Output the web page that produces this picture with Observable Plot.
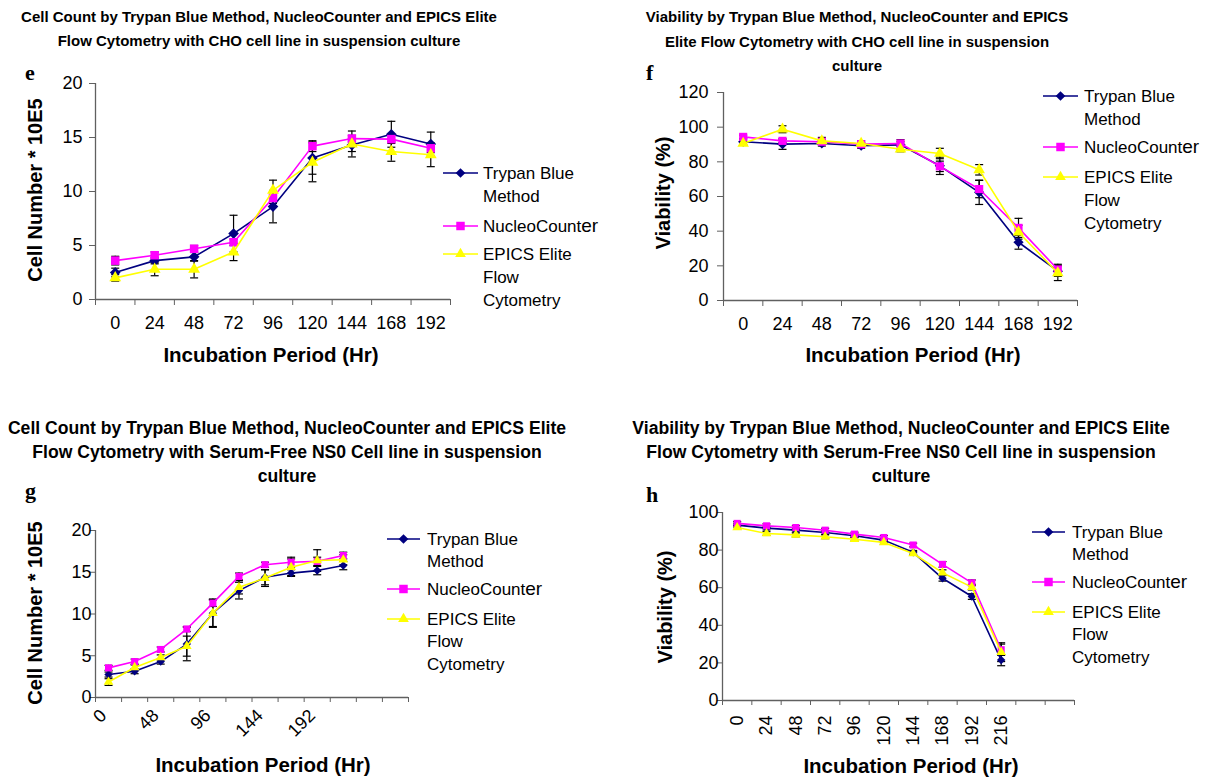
<!DOCTYPE html>
<html><head><meta charset="utf-8">
<script src="https://cdn.jsdelivr.net/npm/d3@7"></script>
<script src="https://cdn.jsdelivr.net/npm/@observablehq/plot@0.6"></script>
<style>
body{margin:0;background:#fff;font-family:"Liberation Sans",Arial,sans-serif;color:#000;}
#root{position:relative;width:1212px;height:780px;overflow:hidden;background:#fff;}
.abs{position:absolute;}
.title{font-weight:bold;text-align:center;white-space:nowrap;transform:translateX(-50%);line-height:24px;}
.letter{font-family:"Liberation Serif","DejaVu Serif",serif;font-weight:bold;font-size:22px;line-height:1;}
.ytitle{font-weight:bold;font-size:20px;white-space:nowrap;transform:translate(-50%,-50%) rotate(-90deg);}
.xtitle{font-weight:bold;font-size:20.5px;white-space:nowrap;transform:translate(-50%,-50%);}
svg.plot{position:absolute;}
</style></head>
<body><div id="root"></div>
<script>
// ---------- data ----------
const seriesNames = ["Trypan Blue Method", "NucleoCounter", "EPICS Elite Flow Cytometry"];
const seriesColors = ["#000080", "#FF00FF", "#FFFF00"];

// Panel e: CHO cell count (cells * 10E5)
const hoursE = ["0","24","48","72","96","120","144","168","192"];
const trypanE = [2.5, 3.6, 3.95, 6.1, 8.6, 13.1, 14.3, 15.3, 14.4];
const nucleoE = [3.6, 4.1, 4.7, 5.3, 9.4, 14.2, 14.9, 14.85, 14.0];
const epicsE  = [2.0, 2.8, 2.8, 4.4, 10.1, 12.7, 14.4, 13.7, 13.4];
const trypanErrE = [0.4, 0.3, 0.4, 1.7, 1.5, 1.5, 0.6, 1.2, 1.1];
const nucleoErrE = [0.4, 0.3, 0.3, 0.3, 0.5, 0.5, 0.3, 0.4, 0.4];
const epicsErrE  = [0.3, 0.6, 0.8, 0.8, 0.95, 1.8, 1.2, 0.9, 1.1];

// Panel f: CHO viability (%)
const hoursF = ["0","24","48","72","96","120","144","168","192"];
const trypanF = [91.6, 90.2, 90.6, 89.3, 89.8, 77.7, 62.4, 33.6, 16.9];
const nucleoF = [94.4, 92.1, 91.6, 90.2, 90.6, 77.4, 64.3, 41.9, 17.9];
const epicsF  = [90.6, 98.8, 92.1, 90.6, 87.3, 84.8, 75.4, 39.4, 15.9];
const trypanErrF = [1.5, 3, 1.5, 1.5, 3, 5, 7, 4, 3];
const nucleoErrF = [1, 1, 1, 1, 1, 3, 5, 5.5, 3];
const epicsErrF  = [1, 2, 2, 1.5, 1.5, 3, 3, 4, 4.4];

// Panel g: NS0 cell count (cells * 10E5)
const hoursG = ["0","24","48","72","96","120","144","168","192","216","240","264"];
const labelsG = ["0","48","96","144","192"];
const trypanG = [2.75, 3.15, 4.3, 6.4, 10.1, 12.8, 14.4, 14.9, 15.2, 15.8];
const nucleoG = [3.55, 4.3, 5.75, 8.2, 11.3, 14.5, 15.9, 16.2, 16.3, 17.0];
const epicsG  = [1.85, 3.6, 4.8, 6.15, 10.1, 13.2, 14.3, 15.6, 16.4, 16.5];
const trypanErrG = [0.3, 0.3, 0.3, 2.0, 1.7, 1.0, 0.9, 0.4, 0.5, 0.5];
const nucleoErrG = [0.3, 0.3, 0.3, 0.3, 0.4, 0.4, 0.3, 0.6, 0.5, 0.4];
const epicsErrG  = [0.4, 0.3, 0.3, 1.2, 1.6, 0.8, 1.0, 1.0, 1.3, 0.6];

// Panel h: NS0 viability (%)
const hoursH = ["0","24","48","72","96","120","144","168","192","216","240","264"];
const labelsH = ["0","24","48","72","96","120","144","168","192","216"];
const trypanH = [93.3, 91.7, 90.6, 89.4, 87.6, 85.3, 78.8, 65.0, 55.3, 21.5];
const nucleoH = [94.2, 92.9, 92.0, 90.6, 88.5, 86.7, 82.7, 72.4, 62.6, 27.0];
const epicsH  = [92.0, 88.8, 88.1, 87.1, 85.8, 84.1, 78.2, 68.0, 60.3, 25.7];
const trypanErrH = [1, 1, 1, 1, 1, 1, 1, 1.5, 1.5, 3];
const nucleoErrH = [1, 1, 1, 1, 1, 1, 1, 1.5, 1.5, 3];
const epicsErrH  = [1, 1, 1, 1, 1, 1, 1, 1.5, 1.5, 5];

// ---------- helpers ----------
const FONT = '"Liberation Sans", Arial, sans-serif';
const AXIS = "#606060";
const symbols = ["diamond2", "square", "triangle"];
const capSymbol = {draw(ctx, size) { const r = Math.sqrt(size / Math.PI); ctx.moveTo(-r, 0); ctx.lineTo(r, 0); }};
const root = document.getElementById("root");

function panel(p) {
  const rows = [];
  p.values.forEach((vals, k) => vals.forEach((v, i) => rows.push({i, v, e: p.errs[k][i], k})));
  const nb = p.hours.length;
  const bounds = d3.range(nb + 1).map(j => j - 0.5);
  const labelIdx = p.hours.map((h, i) => i).filter(i => p.labels.includes(p.hours[i]));
  const yTicks = d3.range(0, p.yMax + p.yStep / 2, p.yStep);
  const marks = [
    Plot.axisY({ticks: yTicks, tickSize: p.ytick, stroke: AXIS, tickFormat: () => "", label: null}),
    Plot.axisY({ticks: yTicks, tickSize: 0, tickPadding: p.ypad, tickFormat: d => String(d), label: null, fontSize: 18}),
    Plot.axisX({ticks: bounds, tickSize: p.xtick, stroke: AXIS, tickFormat: () => "", label: null}),
    Plot.axisX({ticks: labelIdx, tickSize: 0, tickPadding: p.xpad, tickRotate: p.rotate, dx: p.xdx || 0,
      tickFormat: i => p.hours[i], label: null, fontSize: 18}),
    Plot.ruleY([0], {stroke: AXIS, strokeWidth: 1.3}),
    Plot.ruleX([-0.5], {stroke: AXIS, strokeWidth: 1.3}),
    Plot.ruleX(rows, {x: "i", y1: d => d.v - d.e, y2: d => d.v + d.e, stroke: "#000", strokeWidth: 1.2}),
    Plot.dot(rows, {x: "i", y: d => d.v - d.e, symbol: capSymbol, r: 4, stroke: "#000", strokeWidth: 1.2}),
    Plot.dot(rows, {x: "i", y: d => d.v + d.e, symbol: capSymbol, r: 4, stroke: "#000", strokeWidth: 1.2})
  ];
  seriesNames.forEach((name, k) => {
    const d = rows.filter(r => r.k === k);
    marks.push(Plot.line(d, {x: "i", y: "v", stroke: seriesColors[k], strokeWidth: 1.6}));
    marks.push(Plot.dot(d, {x: "i", y: "v", symbol: symbols[k], fill: seriesColors[k], stroke: "none", r: p.r[k]}));
  });
  const svg = Plot.plot({
    width: 606, height: 390,
    marginLeft: p.ml, marginRight: p.mr, marginTop: p.mt, marginBottom: p.mb,
    x: {domain: [-0.5, nb - 0.5]},
    y: {domain: [0, p.yMax]},
    style: {fontFamily: FONT, fontSize: "18px", color: "#000", background: "transparent", overflow: "visible"},
    marks
  });
  svg.classList.add("plot");
  svg.style.left = p.left + "px";
  svg.style.top = p.top + "px";
  root.appendChild(svg);
}

function addDiv(cls, html, css) {
  const d = document.createElement("div");
  d.className = "abs " + cls;
  d.innerHTML = html;
  Object.assign(d.style, css);
  root.appendChild(d);
  return d;
}

function legend(x0, x1, tx, ys, gap) {
  const ns = "http://www.w3.org/2000/svg";
  const svg = document.createElementNS(ns, "svg");
  svg.setAttribute("width", 1212); svg.setAttribute("height", 780);
  svg.style.position = "absolute"; svg.style.left = "0px"; svg.style.top = "0px";
  svg.style.overflow = "visible";
  const labels = [["Trypan Blue", "Method"], ["NucleoCount|er"], ["EPICS Elite", "Flow", "Cytometry"]];
  const sym = [d3.symbolDiamond2, d3.symbolSquare, d3.symbolTriangle];
  const sz = [60, 72, 50];
  labels.forEach((lines, k) => {
    const y = ys[k];
    const g = d3.select(svg).append("g");
    g.append("line").attr("x1", x0).attr("x2", x1).attr("y1", y).attr("y2", y)
      .attr("stroke", seriesColors[k]).attr("stroke-width", 1.6);
    g.append("path").attr("d", d3.symbol(sym[k], sz[k])()).attr("transform", `translate(${(x0 + x1) / 2},${y})`)
      .attr("fill", seriesColors[k]);
    lines.forEach((t, j) => {
      const txt = g.append("text").attr("x", tx).attr("y", y + j * gap).attr("dy", "0.35em")
        .attr("font-family", FONT).attr("font-size", 17).attr("fill", "#000");
      if (t.includes("|")) {
        const [a, b] = t.split("|");
        txt.append("tspan").text(a);
        txt.append("tspan").attr("font-size", 19).text(b);
      } else txt.text(t);
    });
  });
  root.appendChild(svg);
}

// ---------- panels ----------
panel({left: 0, top: 0, hours: hoursE, labels: hoursE, values: [trypanE, nucleoE, epicsE],
  errs: [trypanErrE, nucleoErrE, epicsErrE], yMax: 20, yStep: 5,
  ml: 95, mr: 156, mt: 83, mb: 91, ytick: 6, ypad: 13, xtick: 6, xpad: 17, rotate: 0, r: [4.8, 4.8, 4.4]});
panel({left: 606, top: 0, hours: hoursF, labels: hoursF, values: [trypanF, nucleoF, epicsF],
  errs: [trypanErrF, nucleoErrF, epicsErrF], yMax: 120, yStep: 20,
  ml: 117, mr: 135, mt: 92, mb: 90, ytick: 6, ypad: 15, xtick: 6, xpad: 17, rotate: 0, r: [4.6, 4.6, 4.3]});
panel({left: 0, top: 390, hours: hoursG, labels: labelsG, values: [trypanG, nucleoG, epicsG],
  errs: [trypanErrG, nucleoErrG, epicsErrG], yMax: 20, yStep: 5,
  ml: 95, mr: 198, mt: 140, mb: 83, ytick: 5, ypad: 4, xtick: 5, xpad: 15, rotate: -45, xdx: -5, r: [3.8, 4, 3.6]});
panel({left: 606, top: 390, hours: hoursH, labels: labelsH, values: [trypanH, nucleoH, epicsH],
  errs: [trypanErrH, nucleoErrH, epicsErrH], yMax: 100, yStep: 20,
  ml: 116, mr: 138, mt: 122, mb: 80, ytick: 5, ypad: 4, xtick: 5, xpad: 15, rotate: -90, r: [3.8, 4, 3.6]});

// ---------- titles ----------
addDiv("title", "Cell Count by Trypan Blue Method, NucleoCounter and EPICS Elite<br>Flow Cytometry with CHO cell line in suspension culture",
  {left: "259px", top: "5px", fontSize: "15px"});
addDiv("title", "Viability by Trypan Blue Method, NucleoCounter and EPICS<br>Elite Flow Cytometry with CHO cell line in suspension<br>culture",
  {left: "857px", top: "5px", fontSize: "15px", lineHeight: "24.5px"});
addDiv("title", "Cell Count by Trypan Blue Method, NucleoCounter and EPICS Elite<br>Flow Cytometry with Serum-Free NS0 Cell line in suspension<br>culture",
  {left: "287px", top: "416px", fontSize: "17.6px"});
addDiv("title", "Viability by Trypan Blue Method, NucleoCounter and EPICS Elite<br>Flow Cytometry with Serum-Free NS0 Cell line in suspension<br>culture",
  {left: "901px", top: "416px", fontSize: "17.6px"});

// panel letters
addDiv("letter", "e", {left: "25px", top: "62px"});
addDiv("letter", "f", {left: "646px", top: "62px"});
addDiv("letter", "g", {left: "25px", top: "480px"});
addDiv("letter", "h", {left: "646px", top: "484px"});

// axis titles
addDiv("ytitle", "Cell Number * 10E5", {left: "35px", top: "190px"});
addDiv("ytitle", "Viability (%)", {left: "663px", top: "193px"});
addDiv("ytitle", "Cell Number * 10E5", {left: "35px", top: "613px"});
addDiv("ytitle", "Viability (%)", {left: "665px", top: "607px"});
addDiv("xtitle", "Incubation Period (Hr)", {left: "271px", top: "355px"});
addDiv("xtitle", "Incubation Period (Hr)", {left: "913px", top: "355px"});
addDiv("xtitle", "Incubation Period (Hr)", {left: "263px", top: "765px"});
addDiv("xtitle", "Incubation Period (Hr)", {left: "911px", top: "766px"});

// legends
legend(443, 478, 483, [173, 226, 254], 23);
legend(1043, 1078, 1084, [96, 147, 177], 23);
legend(387, 420, 427, [539, 589, 619], 22.5);
legend(1032, 1065, 1072, [532, 582, 612], 22.5);
</script></body></html>
